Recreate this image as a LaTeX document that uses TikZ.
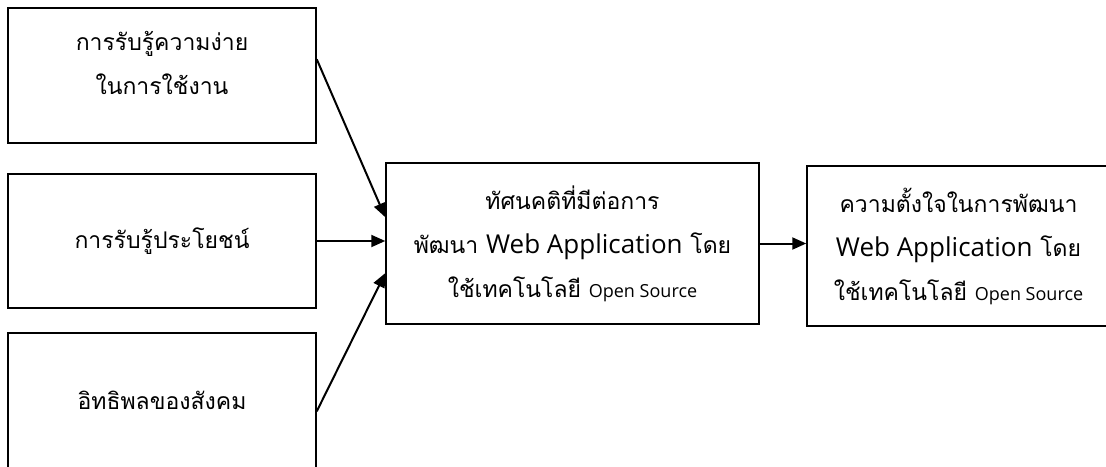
\documentclass[tikz,border=0pt]{standalone}
\usepackage{fontspec}
\setmainfont[Script=Thai]{Loma}
\newfontfamily\latinfont{Open Sans}
\usetikzlibrary{arrows.meta}
\newcommand{\webapp}{{\latinfont\fontsize{26}{44}\selectfont Web Application}}
\newcommand{\opensrc}{{\latinfont\fontsize{18}{44}\selectfont Open Source}}
\begin{document}
\begin{tikzpicture}[x=1pt,y=-1pt,
    box/.style={draw,line width=1.5pt,align=center,inner sep=0pt,font=\fontsize{23}{44}\selectfont},
    arr/.style={-{Triangle[length=14pt,width=12pt]},line width=2pt}]
    \clip (0,0) rectangle (1106,466);
    \node[box,minimum width=308pt,minimum height=135pt,text depth=26pt] (ease) at (162,75.5) {การรับรู้ความง่าย\\ในการใช้งาน};
    \node[box,minimum width=308pt,minimum height=134pt] (useful) at (162,241) {การรับรู้ประโยชน์};
    \node[box,minimum width=308pt,minimum height=135pt] (social) at (162,400.5) {อิทธิพลของสังคม};
    \node[box,minimum width=373pt,minimum height=161pt] (att) at (572.5,243.5)
        {ทัศนคติที่มีต่อการ\\พัฒนา \webapp{} โดย\\ใช้เทคโนโลยี \opensrc};
    \node[box,minimum width=303pt,minimum height=160pt] (intent) at (958.5,246)
        {ความตั้งใจในการพัฒนา\\\webapp{} โดย\\ใช้เทคโนโลยี \opensrc};
    \draw[arr] (ease.6) -- (att.172);
    \draw[arr] (useful.east) -- (useful.east -| att.west);
    \draw[arr] (social.-4) -- (att.189);
    \draw[arr] (att.east) -- (att.east -| intent.west);
\end{tikzpicture}
\end{document}
